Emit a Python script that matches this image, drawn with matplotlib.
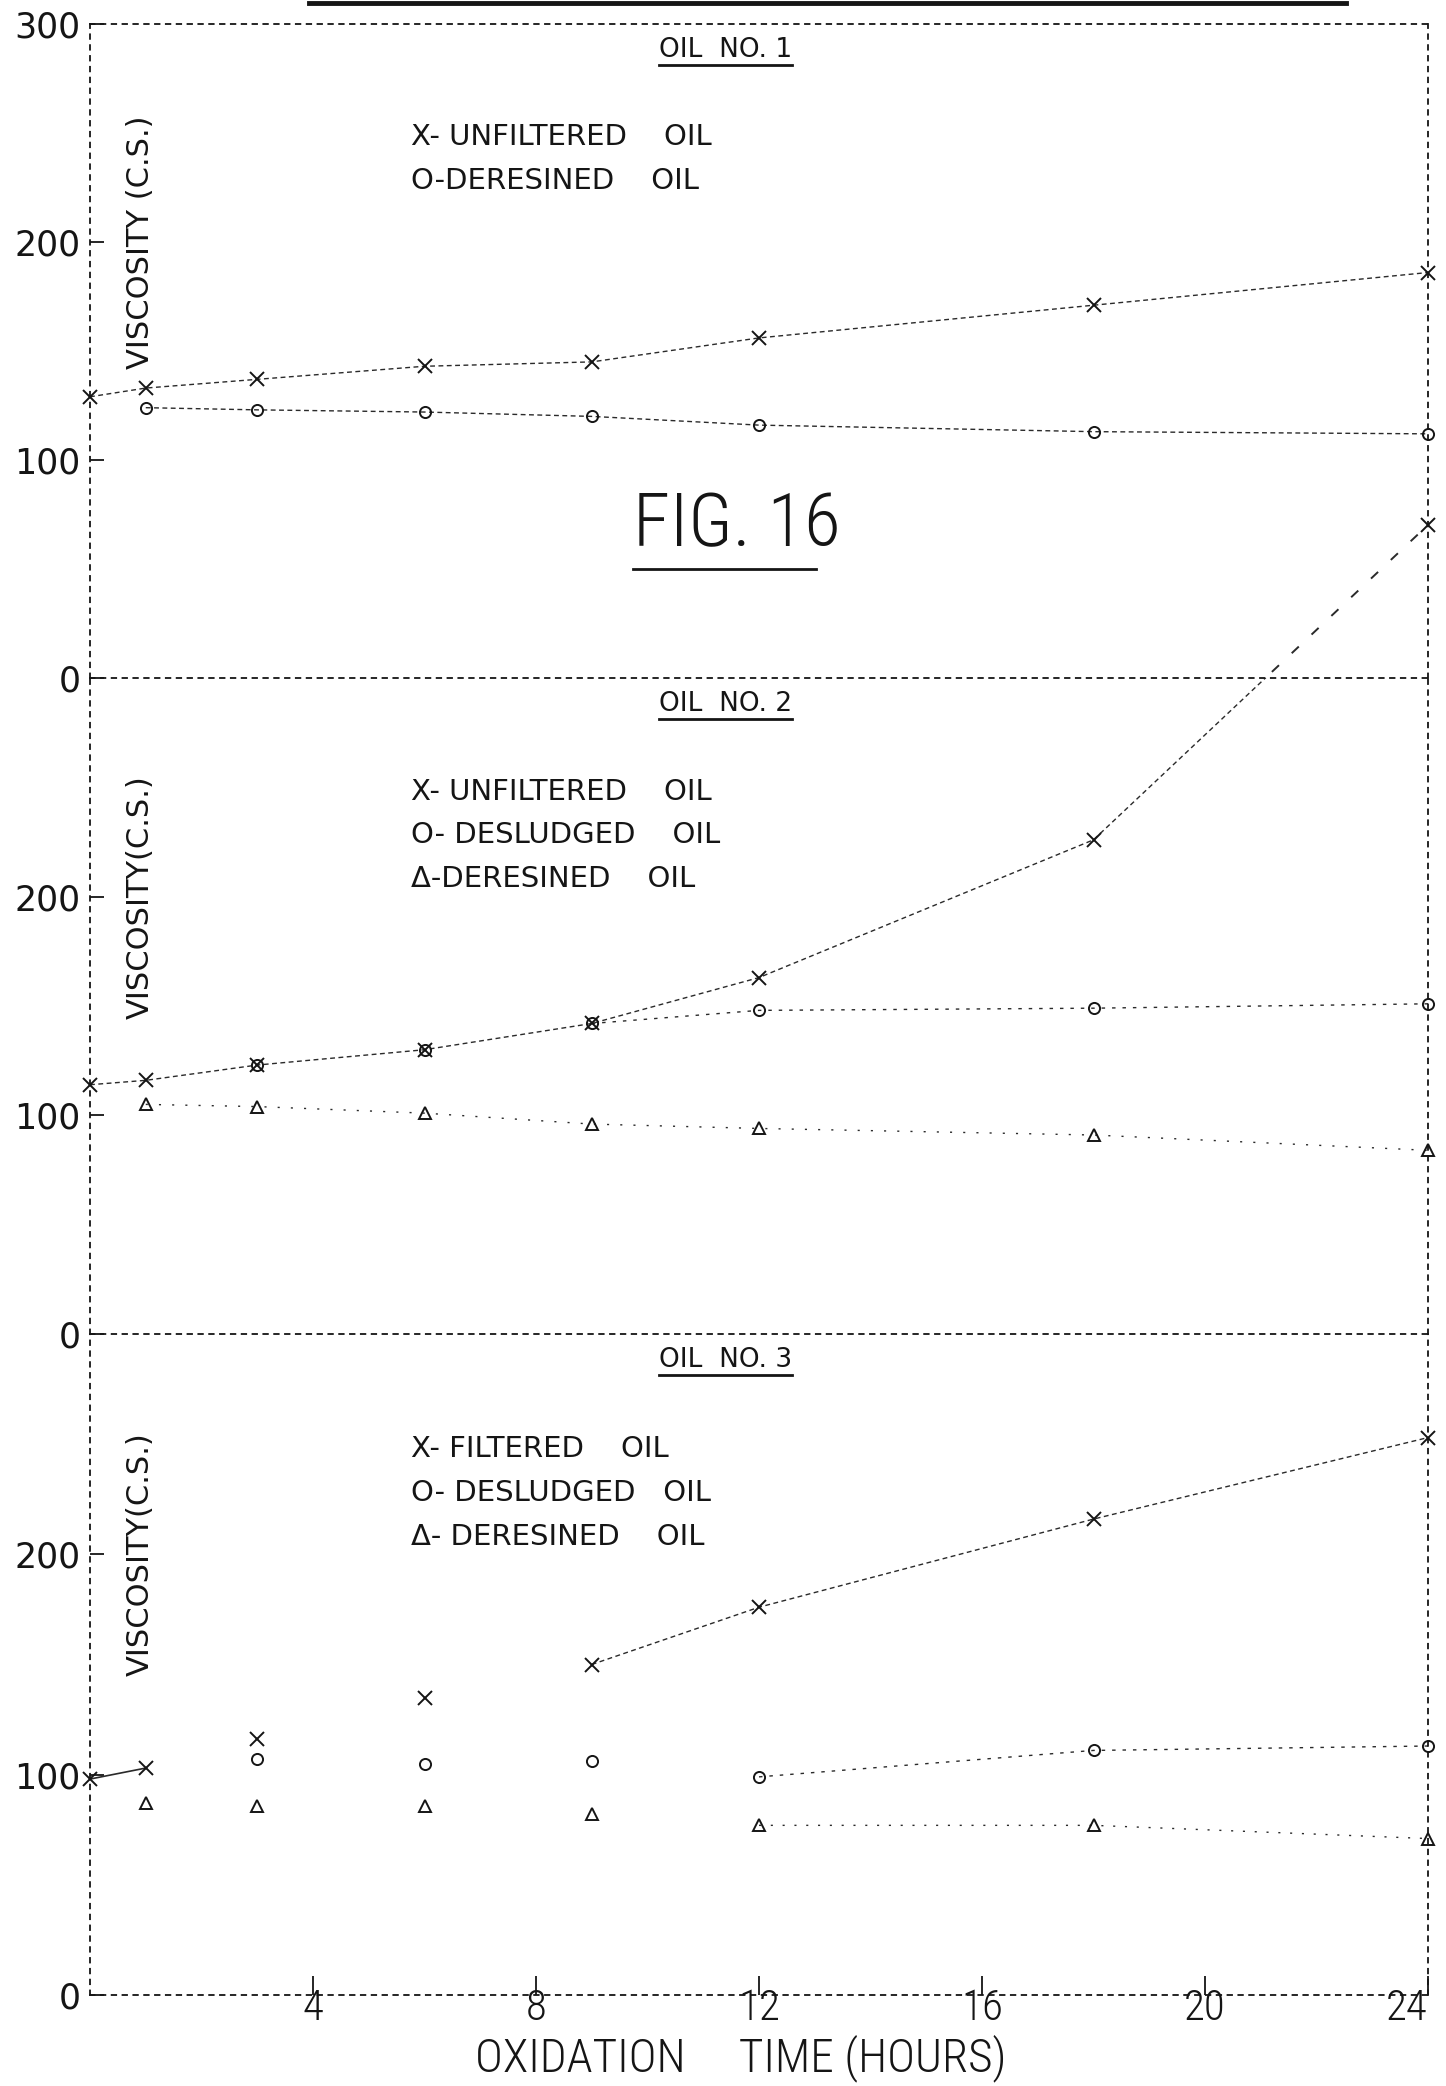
import matplotlib
matplotlib.use("Agg")
import matplotlib.pyplot as plt
from matplotlib import font_manager
from matplotlib.lines import Line2D
from matplotlib.patches import Rectangle

# ---- readings: viscosity (c.s.) against oxidation time (hours) ----
hours = [0, 1, 3, 6, 9, 12, 18, 24]

# Oil No. 1
oil1_unfiltered = [129, 133, 137, 143, 145, 156, 171, 186]
oil1_deresined_hours = [1, 3, 6, 9, 12, 18, 24]
oil1_deresined = [124, 123, 122, 120, 116, 113, 112]

# Oil No. 2
oil2_unfiltered = [114, 116, 123, 130, 142, 163, 226, 370]
oil2_desludged_hours = [3, 6, 9, 12, 18, 24]
oil2_desludged = [123, 130, 142, 148, 149, 151]
oil2_deresined_hours = [1, 3, 6, 9, 12, 18, 24]
oil2_deresined = [105, 104, 101, 96, 94, 91, 84]

# Oil No. 3
oil3_filtered = [98, 103, 116, 135, 150, 176, 216, 253]
oil3_desludged_hours = [3, 6, 9, 12, 18, 24]
oil3_desludged = [107, 105, 106, 99, 111, 113]
oil3_deresined_hours = [1, 3, 6, 9, 12, 18, 24]
oil3_deresined = [87, 86, 86, 82, 77, 77, 71]

x_ticks = [4, 8, 12, 16, 20, 24]
panel_titles = ["OIL  NO. 1", "OIL  NO. 2", "OIL  NO. 3"]
legend_1 = ["X- UNFILTERED    OIL", "O-DERESINED    OIL"]
legend_2 = ["X- UNFILTERED    OIL", "O- DESLUDGED    OIL", "\u0394-DERESINED    OIL"]
legend_3 = ["X- FILTERED    OIL", "O- DESLUDGED   OIL", "\u0394- DERESINED    OIL"]
y_titles = ["VISCOSITY (C.S.)", "VISCOSITY(C.S.)", "VISCOSITY(C.S.)"]
x_title = "OXIDATION     TIME (HOURS)"
fig_title = "FIG. 16"

INK = "#151515"
LINE = "#2a2a2a"

available = {f.name for f in font_manager.fontManager.ttflist}


def pick(*names):
    return [n for n in names if n in available] + ["DejaVu Sans"]


NARROW = pick("Liberation Sans Narrow", "Roboto Condensed", "Open Sans Condensed", "Roboto")
PLAIN = ["DejaVu Sans"]

W, H = 1446, 2086
fig = plt.figure(figsize=(W / 100, H / 100), dpi=100)
fig.patch.set_facecolor("white")


def box(left, top, right, bottom):
    return [left / W, 1 - bottom / H, (right - left) / W, (bottom - top) / H]


ax1 = fig.add_axes(box(90, 24, 1428, 678))
ax2 = fig.add_axes(box(90, 678, 1428, 1334))
ax3 = fig.add_axes(box(90, 1334, 1428, 1995))
axes = [ax1, ax2, ax3]

DOTTED = (0, (2.5, 3.5))
for i, ax in enumerate(axes):
    ax.set_xlim(0, 24)
    ax.set_ylim(0, 300)
    ax.patch.set_alpha(0)
    for side in ("left", "top", "right", "bottom"):
        sp = ax.spines[side]
        sp.set_linestyle(DOTTED)
        sp.set_linewidth(1.3)
        sp.set_color(INK)
    if i < 2:
        ax.spines["bottom"].set_visible(False)
        ax.set_xticks([])
    ax.tick_params(axis="y", direction="in", length=10, width=1.3, color=INK,
                   labelsize=25, pad=7, labelcolor=INK)
    ax.set_yticks([0, 100, 200, 300] if i == 0 else [0, 100, 200])
    ax.set_yticklabels([str(v) for v in ax.get_yticks().astype(int)])
    for lab in ax.get_yticklabels():
        lab.set_family(PLAIN)

ax3.set_xticks(x_ticks)
ax3.set_xticklabels([str(v) for v in x_ticks])
ax3.tick_params(axis="x", direction="in", length=14, width=1.3, color=INK,
                labelsize=31, pad=-5, labelcolor=INK)
for lab in ax3.get_xticklabels():
    lab.set_family(NARROW)
    lab.set_fontweight("light")
ax3.get_xticklabels()[-1].set_ha("right")
ax3.set_xlabel(x_title, fontsize=34, family=NARROW, fontweight="light", color=INK)
ax3.xaxis.set_label_coords(0.4865, -0.0955)
ax3.xaxis.label.set_va("center")


def series(ax, xs, ys, marker, ms, join_from=0, ls=(0, (3.5, 2.5)), lw=1.0):
    ax.plot(xs[join_from:], ys[join_from:], ls=ls, lw=lw, color=LINE)
    ax.plot(xs, ys, ls="none", marker=marker, ms=ms, mfc="none", mec=INK,
            mew=1.4, clip_on=False, zorder=3)


# Oil No. 1
series(ax1, hours, oil1_unfiltered, "x", 10)
series(ax1, oil1_deresined_hours, oil1_deresined, "o", 8)

# Oil No. 2 : the unfiltered curve runs past the top of its frame
series(ax2, hours, oil2_unfiltered, "x", 10)
over = ax2.plot(hours[-2:], oil2_unfiltered[-2:], ls=(0, (5, 9)), lw=1.4, color=LINE)[0]
over.set_clip_path(Rectangle((0, 300), 24, 120, transform=ax2.transData))
series(ax2, oil2_desludged_hours, oil2_desludged, "o", 8, join_from=2, ls=(0, (2.5, 5)))
series(ax2, oil2_deresined_hours, oil2_deresined, "^", 9, ls=(0, (1.5, 8)))

# Oil No. 3
ax3.plot(hours[:2], oil3_filtered[:2], ls="-", lw=1.2, color=LINE)
series(ax3, hours, oil3_filtered, "x", 10, join_from=4)
series(ax3, oil3_desludged_hours, oil3_desludged, "o", 8, join_from=3, ls=(0, (2.5, 5)))
series(ax3, oil3_deresined_hours, oil3_deresined, "^", 9, join_from=4, ls=(0, (1.5, 7)))

# Panel lettering
titles = []
legends = [legend_1, legend_2, legend_3]
for ax, title, rows, ytitle in zip(axes, panel_titles, legends, y_titles):
    titles.append(ax.text(11.4, 288, title, ha="center", va="center", fontsize=19,
                          family=PLAIN, color=INK))
    for k, row in enumerate(rows):
        ax.text(5.75, 248 - 20 * k, row, ha="left", va="center", fontsize=21,
                family=PLAIN, color=INK)
    ax.text(0.9, 200, ytitle, rotation=90, ha="center", va="center", fontsize=22,
            family=PLAIN, color=INK)

fig_lbl = ax1.text(11.6, 70, fig_title, ha="center", va="center", fontsize=54,
                   family=NARROW, fontweight="light", color=INK)

# heavy rule along the top edge of the sheet
fig.add_artist(Line2D([309 / W, 1346 / W], [1 - 3 / H, 1 - 3 / H], lw=3.5, color=INK))

# underlines beneath the headings
fig.canvas.draw()
for t in titles:
    bb = t.get_window_extent()
    fig.add_artist(Line2D([bb.x0 / W, bb.x1 / W], [(bb.y0 - 2) / H] * 2,
                          lw=2.0, color=INK))
bb = fig_lbl.get_window_extent()
fig.add_artist(Line2D([bb.x0 / W, (bb.x1 - 0.12 * bb.width) / W], [(bb.y0 - 8) / H] * 2,
                      lw=2.0, color=INK))

fig.savefig("out.png", dpi=100, facecolor="white")
